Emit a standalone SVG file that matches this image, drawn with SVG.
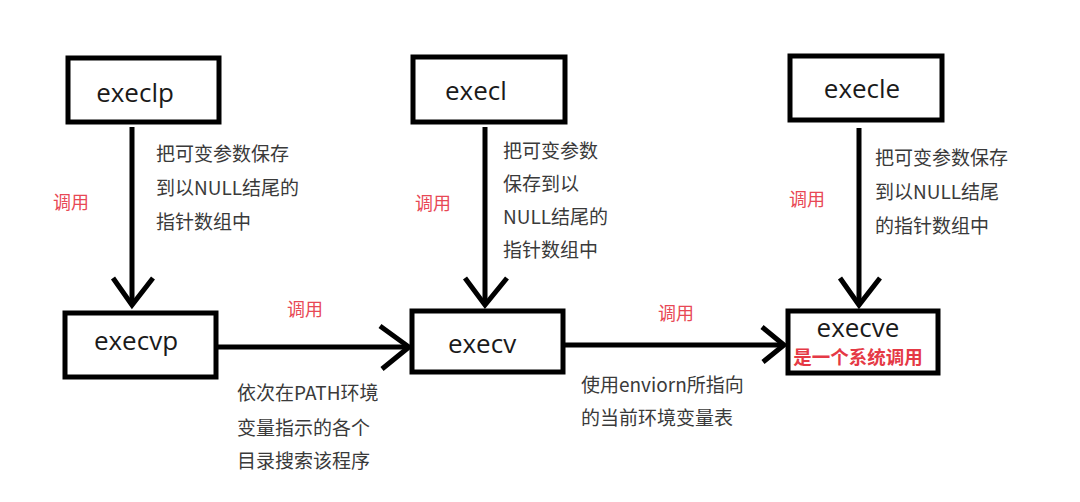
<svg xmlns="http://www.w3.org/2000/svg" width="1080" height="502" viewBox="0 0 1080 502">
<style>
.box{fill:#fff;stroke:#000;stroke-width:5}
.name{font-family:"Open Sans","Noto Sans",sans-serif;font-size:26px;fill:#1a1a1a}
.line{fill:none;stroke:#000;stroke-width:5}
.head{fill:none;stroke:#000;stroke-width:5;stroke-linejoin:miter}
.note{font-family:"Noto Sans CJK SC","Noto Sans",sans-serif;font-size:19px;fill:#3a3a3a}
.call{font-family:"Noto Sans CJK SC","Noto Sans",sans-serif;font-size:18px;fill:#e84855}
.sys{font-family:"Noto Sans CJK SC","Noto Sans",sans-serif;font-size:18.5px;font-weight:bold;fill:#e53945}
</style>
<rect width="1080" height="502" fill="#fff"/>
<g id="connectors">
<line class="line" x1="132" y1="127" x2="132" y2="305"/>
<polyline class="head" points="113,278 132,305 153,278"/>
<line class="line" x1="485" y1="127" x2="485" y2="305"/>
<polyline class="head" points="465,278 485,305 507,278"/>
<line class="line" x1="859" y1="128" x2="859" y2="305"/>
<polyline class="head" points="840,278 859,305 880,278"/>
<line class="line" x1="216" y1="347" x2="409" y2="347"/>
<polyline class="head" points="380,326 409,347 382,369"/>
<line class="line" x1="563" y1="345" x2="784" y2="345"/>
<polyline class="head" points="762,327 784,345 763,362"/>
</g>
<g id="labels">
<text class="call" x="53" y="209">调用</text>
<text class="call" x="415" y="210">调用</text>
<text class="call" x="789" y="206">调用</text>
<text class="call" x="287" y="316">调用</text>
<text class="call" x="658" y="320">调用</text>
<text class="note" x="156" y="161">把可变参数保存</text>
<text class="note" x="156" y="195">到以NULL结尾的</text>
<text class="note" x="156" y="229">指针数组中</text>
<text class="note" x="503" y="158">把可变参数</text>
<text class="note" x="503" y="191">保存到以</text>
<text class="note" x="503" y="224">NULL结尾的</text>
<text class="note" x="503" y="257">指针数组中</text>
<text class="note" x="875" y="165">把可变参数保存</text>
<text class="note" x="875" y="199">到以NULL结尾</text>
<text class="note" x="875" y="233">的指针数组中</text>
<text class="note" x="237" y="400">依次在PATH环境</text>
<text class="note" x="237" y="435">变量指示的各个</text>
<text class="note" x="237" y="468">目录搜索该程序</text>
<text class="note" x="581" y="392">使用enviorn所指向</text>
<text class="note" x="581" y="425">的当前环境变量表</text>
</g>
<g id="execlp">
<rect class="box" x="68" y="58" width="151" height="64"/>
<text class="name" x="135" y="102" text-anchor="middle">execlp</text>
</g>
<g id="execl">
<rect class="box" x="413" y="57" width="152" height="65"/>
<text class="name" x="445" y="100">execl</text>
</g>
<g id="execle">
<rect class="box" x="790" y="56" width="152" height="64"/>
<text class="name" x="862" y="98" text-anchor="middle">execle</text>
</g>
<g id="execvp">
<rect class="box" x="65" y="313" width="151" height="64"/>
<text class="name" x="136" y="350" text-anchor="middle">execvp</text>
</g>
<g id="execv">
<rect class="box" x="412" y="311" width="151" height="61"/>
<text class="name" x="482" y="353" text-anchor="middle">execv</text>
</g>
<g id="execve">
<rect class="box" x="788" y="311" width="150" height="62"/>
<text class="name" x="858" y="337" text-anchor="middle">execve</text>
<text class="sys" x="858" y="364" text-anchor="middle">是一个系统调用</text>
</g>
</svg>
